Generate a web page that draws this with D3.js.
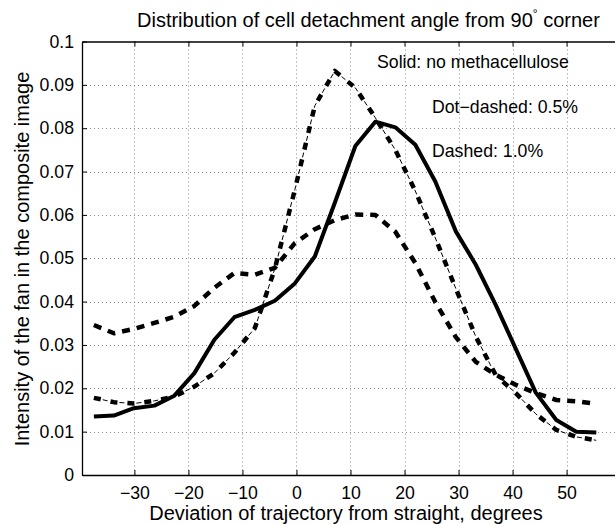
<!DOCTYPE html>
<html>
<head>
<meta charset="utf-8">
<script src="https://cdn.jsdelivr.net/npm/d3@7"></script>
<style>
  html, body { margin: 0; padding: 0; background: #fff; }
  svg { display: block; }
  text { font-family: "Liberation Sans", Arial, Helvetica, sans-serif; fill: #000; }
</style>
</head>
<body>
<svg id="chart" width="615" height="524"></svg>
<script>
// ---- data ----
const angles = [-37.5, -33.8, -30.1, -26.3, -22.6, -18.9, -15.2, -11.5, -7.7, -4.0, -0.3, 3.4, 7.1,
                10.9, 14.6, 18.3, 22.0, 25.7, 29.5, 33.2, 36.9, 40.6, 44.3, 48.1, 51.8, 55.5];
const solidNoMeth = [0.0135, 0.0137, 0.0154, 0.0160, 0.0183, 0.0235, 0.0312, 0.0364, 0.0381, 0.0402,
                     0.0442, 0.0504, 0.0628, 0.0759, 0.0815, 0.0802, 0.0762, 0.0677, 0.0562, 0.0485,
                     0.0392, 0.0291, 0.0190, 0.0127, 0.0100, 0.0098];
const dotDashed05 = [0.0178, 0.0168, 0.0165, 0.0171, 0.0181, 0.0204, 0.0235, 0.0282, 0.0339, 0.0476,
                     0.0658, 0.0852, 0.0932, 0.0893, 0.0824, 0.0750, 0.0655, 0.0547, 0.0430, 0.0319,
                     0.0230, 0.0189, 0.0141, 0.0104, 0.0088, 0.0080];
const dashed10 = [0.0346, 0.0327, 0.0337, 0.0351, 0.0365, 0.0390, 0.0432, 0.0466, 0.0462, 0.0478,
                  0.0535, 0.0567, 0.0588, 0.0601, 0.0600, 0.0561, 0.0489, 0.0399, 0.0318, 0.0261,
                  0.0231, 0.0208, 0.0189, 0.0173, 0.0170, 0.0164];
const xTicks = [-30, -20, -10, 0, 10, 20, 30, 40, 50];
const yTicks = [0, 0.01, 0.02, 0.03, 0.04, 0.05, 0.06, 0.07, 0.08, 0.09, 0.1];
const yTickLabels = ["0", "0.01", "0.02", "0.03", "0.04", "0.05", "0.06", "0.07", "0.08", "0.09", "0.1"];
const xTickLabels = ["\u221230", "\u221220", "\u221210", "0", "10", "20", "30", "40", "50"];
const legendLines = ["Solid: no methacellulose", "Dot\u2212dashed: 0.5%", "Dashed: 1.0%"];

// ---- layout ----
const svg = d3.select("#chart");
const L = 82, R = 626, T = 41.5, B = 475;
const x = d3.scaleLinear().domain([-39.7, 61]).range([L, R]);
const y = d3.scaleLinear().domain([0, 0.1]).range([B, T]);

// grid
const grid = svg.append("g").attr("stroke", "#8a8a8a").attr("stroke-width", 1)
  .attr("stroke-dasharray", "1,3");
xTicks.forEach(t => grid.append("line")
  .attr("x1", Math.round(x(t)) + 0.5).attr("x2", Math.round(x(t)) + 0.5)
  .attr("y1", T).attr("y2", B));
yTicks.filter(t => t > 0 && t < 0.1).forEach(t => grid.append("line")
  .attr("x1", L).attr("x2", R)
  .attr("y1", Math.round(y(t)) + 0.5).attr("y2", Math.round(y(t)) + 0.5));

// axes
const fs = "17.7px";
const gx = svg.append("g").attr("transform", `translate(0,${B})`)
  .call(d3.axisBottom(x).tickValues(xTicks).tickSize(-5).tickSizeOuter(0).tickPadding(11)
    .tickFormat((d, i) => xTickLabels[i]));
const gxt = svg.append("g").attr("transform", `translate(0,${T})`)
  .call(d3.axisTop(x).tickValues(xTicks).tickSize(-5).tickSizeOuter(0).tickFormat(""));
const gy = svg.append("g").attr("transform", `translate(${L},0)`)
  .call(d3.axisLeft(y).tickValues(yTicks).tickSize(-5).tickSizeOuter(0).tickPadding(8)
    .tickFormat((d, i) => yTickLabels[i]));
[gx, gxt, gy].forEach(g => {
  g.selectAll("path.domain").attr("stroke", "#000").attr("stroke-width", 1.3);
  g.selectAll(".tick line").attr("stroke", "#000").attr("stroke-width", 1);
  g.selectAll("text").style("font-size", fs)
    .style("font-family", '"Liberation Sans", Arial, Helvetica, sans-serif').attr("fill", "#000");
});

// lines
const line = d3.line().x((d, i) => x(angles[i])).y(d => y(d));
const plot = svg.append("g").attr("fill", "none").attr("stroke", "#000")
  .attr("stroke-linejoin", "round");

plot.append("path").datum(solidNoMeth).attr("d", line)
  .attr("stroke-width", 4);

plot.append("path").datum(dashed10).attr("d", line)
  .attr("stroke-width", 4.5).attr("stroke-dasharray", "8,7");

plot.append("path").datum(dotDashed05).attr("d", line)
  .attr("stroke-width", 4.5).attr("stroke-dasharray", "7,10");
plot.append("path").datum(dotDashed05).attr("d", line)
  .attr("stroke-width", 1).attr("stroke-dasharray", "0,9,5,3");

// legend texts
const legendPos = [[377, 68], [432, 112.5], [432, 156.5]];
legendLines.forEach((s, i) => svg.append("text")
  .attr("x", legendPos[i][0]).attr("y", legendPos[i][1])
  .style("font-size", fs).text(s));

// title
const title = svg.append("text").attr("x", 137).attr("y", 27).style("font-size", "20px");
title.append("tspan").text("Distribution of cell detachment angle from 90");
title.append("tspan").attr("dy", -9).style("font-size", "12px").text("\u00b0");
title.append("tspan").attr("dy", 9).text(" corner");

// axis labels
svg.append("text").attr("x", 346).attr("y", 520).attr("text-anchor", "middle")
  .style("font-size", "20px").text("Deviation of trajectory from straight, degrees");
svg.append("text").attr("transform", "translate(29,259) rotate(-90)").attr("text-anchor", "middle")
  .style("font-size", "20px").text("Intensity of the fan in the composite image");
</script>
</body>
</html>
